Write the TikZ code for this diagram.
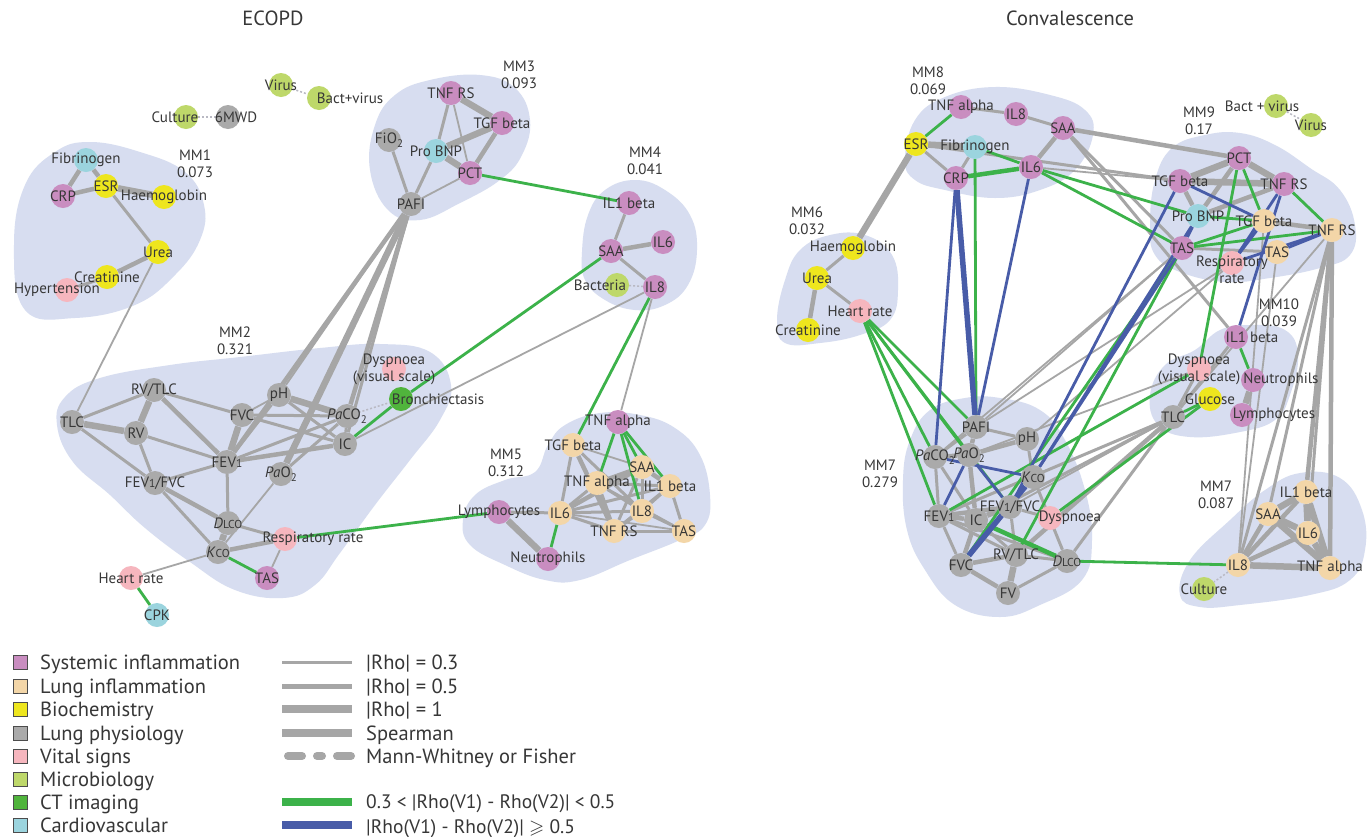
\documentclass[tikz,border=0pt]{standalone}
\usepackage{amssymb}
\usepackage{fontspec}
\setmainfont{PT Sans}
\usetikzlibrary{calc}
\pgfdeclarelayer{bg}
\pgfdeclarelayer{hull}
\pgfdeclarelayer{edges}
\pgfdeclarelayer{labels}
\pgfsetlayers{bg,hull,edges,main,labels}

\definecolor{sysc}{RGB}{201,141,192}
\definecolor{lungc}{RGB}{243,214,168}
\definecolor{bioc}{RGB}{238,230,30}
\definecolor{physc}{RGB}{170,170,170}
\definecolor{vitc}{RGB}{246,182,190}
\definecolor{micc}{RGB}{190,216,106}
\definecolor{ctc}{RGB}{80,180,60}
\definecolor{cardc}{RGB}{155,212,222}
\definecolor{hullc}{RGB}{215,221,240}
\definecolor{edgec}{RGB}{166,166,166}
\definecolor{grc}{RGB}{60,178,74}
\definecolor{blc}{RGB}{72,92,168}
\definecolor{txt}{RGB}{55,55,55}
\definecolor{dotc}{RGB}{185,185,195}

\newcommand\nodefont{\fontsize{15}{17}\selectfont}
\newcommand\legfont{\fontsize{20.5}{21}\selectfont}
\newcommand\legfontb{\fontsize{19.5}{20}\selectfont}
\newcommand\sbs[1]{\raisebox{-0.45ex}{\fontsize{11}{11}\selectfont #1}}
\newcommand\smc[1]{{\fontsize{11.5}{11}\selectfont #1}}
\newcommand\PaCO{\textit{Pa}CO\sbs{2}}
\newcommand\PaO{\textit{Pa}O\sbs{2}}
\newcommand\DLCO{\textit{D}\smc{LCO}}
\newcommand\KCO{\textit{K}\smc{CO}}
\newcommand\FEV{FEV\smc{1}}

% circle + label drawn on the label layer
\newcommand\nd[5][]{%
  \node[ndot,#4] (#2) at (#3) {};
  \begin{pgfonlayer}{labels}\node[lbl,#1] (#2-l) at (#2) {#5};\end{pgfonlayer}}

\tikzset{
  ndot/.style={circle, inner sep=0pt, minimum size=24pt, draw=none},
  sys/.style={fill=sysc}, lung/.style={fill=lungc}, bio/.style={fill=bioc},
  phys/.style={fill=physc}, vit/.style={fill=vitc}, mic/.style={fill=micc},
  ct/.style={fill=ctc}, card/.style={fill=cardc},
  lbl/.style={font=\nodefont, text=txt, align=center, inner sep=0pt},
  mmlbl/.style={font=\nodefont, text=txt, align=center, inner sep=0pt},
  g1/.style={draw=edgec, line width=1.8pt},
  g2/.style={draw=edgec, line width=3pt},
  g3/.style={draw=edgec, line width=4.5pt},
  g4/.style={draw=edgec, line width=6.5pt},
  gr/.style={draw=grc, line width=2.8pt},
  grt/.style={draw=grc, line width=4.5pt},
  bl/.style={draw=blc, line width=2.8pt},
  blt/.style={draw=blc, line width=5.5pt},
  mw/.style={draw=dotc, line width=1.5pt, dash pattern=on 2pt off 2pt},
  hullfill/.style={fill=hullc},
  legsq/.style={draw=black!70, line width=1pt, minimum size=14pt, inner sep=0pt},
  legtxt/.style={font=\legfont, text=txt, anchor=base west, inner sep=0pt},
}

\begin{document}
\begin{tikzpicture}[x=1pt, y=-1pt]
\useasboundingbox (0,0) rectangle (1370,836);
\begin{pgfonlayer}{bg}
\fill[white] (0,0) rectangle (1370,836);
\end{pgfonlayer}

% ---------- titles ----------
\node[font=\fontsize{20.5}{22}\selectfont, text=txt] (tl) at (273,18) {ECOPD};
\node[font=\fontsize{20.5}{22}\selectfont, text=txt] (tr) at (1070,18) {Convalescence};

% ---------- module hulls ----------
\begin{pgfonlayer}{hull}
\fill[hullfill] plot[smooth cycle, tension=0.7] coordinates {(14,245) (25,185) (55,152) (90,142) (140,152) (185,172) (204,205) (200,240) (175,275) (135,305) (75,318) (25,310)};
\fill[hullfill] plot[smooth cycle, tension=0.7] coordinates {(57,425) (65,397) (100,378) (170,365) (240,357) (320,348) (380,344) (430,352) (451,385) (440,420) (410,460) (375,505) (340,553) (315,585) (283,598) (235,590) (190,562) (145,528) (110,495) (73,462)};
\fill[hullfill] plot[smooth cycle, tension=0.7] coordinates {(370,170) (375,125) (395,95) (430,80) (480,75) (515,88) (530,120) (522,155) (500,180) (460,203) (420,220) (388,210)};
\fill[hullfill] plot[smooth cycle, tension=0.7] coordinates {(582,252) (588,215) (605,190) (635,180) (665,190) (690,215) (697,250) (688,285) (665,305) (635,310) (605,300) (585,280)};
\fill[hullfill] plot[smooth cycle, tension=0.7] coordinates {(463,520) (475,495) (505,480) (535,472) (548,445) (565,425) (600,413) (640,415) (675,428) (700,455) (710,495) (705,525) (680,540) (630,560) (580,580) (545,580) (505,565) (470,545)};
\fill[hullfill] plot[smooth cycle, tension=0.7] coordinates {(905,160) (915,120) (945,97) (995,87) (1050,95) (1085,110) (1093,135) (1075,170) (1040,190) (995,198) (945,190) (915,180)};
\fill[hullfill] plot[smooth cycle, tension=0.7] coordinates {(777,320) (785,280) (800,250) (830,235) (865,235) (892,255) (898,290) (890,320) (860,335) (820,343) (785,343)};
\fill[hullfill] plot[smooth cycle, tension=0.7] coordinates {(1150,225) (1155,180) (1172,148) (1205,135) (1240,133) (1275,145) (1310,168) (1340,190) (1355,225) (1350,255) (1320,268) (1270,278) (1225,282) (1180,272) (1155,255)};
\fill[hullfill] plot[smooth cycle, tension=0.7] coordinates {(1150,395) (1165,365) (1195,350) (1220,330) (1250,325) (1285,330) (1298,355) (1290,395) (1275,420) (1240,432) (1190,437) (1158,425)};
\fill[hullfill] plot[smooth cycle, tension=0.7] coordinates {(903,480) (910,440) (930,410) (965,398) (1000,398) (1040,410) (1065,440) (1085,490) (1092,540) (1082,580) (1040,605) (1000,617) (955,605) (925,570) (907,530)};
\fill[hullfill] plot[smooth cycle, tension=0.7] coordinates {(1180,595) (1190,560) (1230,520) (1265,490) (1300,473) (1340,478) (1362,510) (1365,550) (1350,580) (1310,595) (1240,605) (1200,607)};
\end{pgfonlayer}

% ---------- module labels ----------
\node[mmlbl] (mm1) at (195,164) {MM1\\0.073};
\node[mmlbl] (mm2) at (235,341) {MM2\\0.321};
\node[mmlbl] (mm3) at (519,75) {MM3\\0.093};
\node[mmlbl] (mm4) at (645,161) {MM4\\0.041};
\node[mmlbl] (mm5) at (506,463) {MM5\\0.312};
\node[mmlbl] (mm8) at (928,81) {MM8\\0.069};
\node[mmlbl] (mm6) at (807,221) {MM6\\0.032};
\node[mmlbl] (mm9) at (1199,121) {MM9\\0.17};
\node[mmlbl] (mm10) at (1279,313) {MM10\\0.039};
\node[mmlbl] (mm7a) at (880,474) {MM7\\0.279};
\node[mmlbl] (mm7b) at (1216,495) {MM7\\0.087};

% ================= ECOPD nodes =================
\nd{lVir}{281,85}{mic}{Virus}
\nd[xshift=31pt]{lBV}{319,98}{mic}{Bact+virus}
\nd[xshift=-11pt]{lCul}{186,117}{mic}{Culture}
\nd[xshift=8pt]{l6MW}{228,117}{phys}{6MWD}
\nd{lFib}{86,160}{card}{Fibrinogen}
\nd{lCRP}{63,196}{sys}{CRP}
\nd{lESR}{106,186}{bio}{ESR}
\nd{lHae}{164,197}{bio}{Haemoglobin}
\nd{lUre}{158,252}{bio}{Urea}
\nd{lCre}{107,277}{bio}{Creatinine}
\nd[xshift=-10pt]{lHyp}{67,290}{vit}{Hypertension}
\nd{lTNR}{451,93}{sys}{TNF RS}
\nd{lTGF}{502,123}{sys}{TGF beta}
\nd{lFiO}{389,140}{phys}{FiO\sbs{2}}
\nd{lBNP}{436,151}{card}{Pro BNP}
\nd{lPCT}{470,173}{sys}{PCT}
\nd{lPAF}{411,204}{phys}{PAFI}
\nd{lI1b}{629,203}{sys}{IL1 beta}
\nd{lIL6}{663,242}{sys}{IL6}
\nd{lSAA}{611,251}{sys}{SAA}
\nd[xshift=-17pt]{lBac}{617,285}{mic}{Bacteria}
\nd{lIL8}{655,287}{sys}{IL8}
\nd{lRT}{154,390}{phys}{RV/TLC}
\nd{lTLC}{72,422}{phys}{TLC}
\nd{lRV}{136,433}{phys}{RV}
\nd{lFVC}{242,415}{phys}{FVC}
\nd{lpH}{279,395}{phys}{pH}
\nd{lPC}{347,416}{phys}{\PaCO}
\nd{lIC}{345,444}{phys}{IC}
\nd{lFE}{227,462}{phys}{\FEV}
\nd{lPO}{281,474}{phys}{\PaO}
\nd{lFF}{155,483}{phys}{\FEV/FVC}
\nd{lDL}{228,523}{phys}{\DLCO}
\nd[xshift=28pt]{lRR}{285,539}{vit}{Respiratory rate}
\nd{lKC}{218,552}{phys}{\KCO}
\nd{lTAS}{267,578}{sys}{TAS}
\nd{lHR}{131,578}{vit}{Heart rate}
\nd{lCPK}{157,615}{card}{CPK}
\nd{lDys}{394,369}{vit}{Dyspnoea\\(visual scale)}
\nd[xshift=37pt]{lBro}{401,399}{ct}{Bronchiectasis}
\nd{lTNa}{618,422}{sys}{TNF alpha}
\nd{lTGt}{573,445}{lung}{TGF beta}
\nd{lSAt}{642,467}{lung}{SAA}
\nd{lTAt}{597,483}{lung}{TNF alpha}
\nd{lI1t}{670,486}{lung}{IL1 beta}
\nd{lLym}{499,512}{sys}{Lymphocytes}
\nd{lI6t}{560,513}{lung}{IL6}
\nd{lI8t}{642,511}{lung}{IL8}
\nd{lTRt}{614,531}{lung}{TNF RS}
\nd{lTSt}{684,531}{lung}{TAS}
\nd{lNeu}{548,559}{sys}{Neutrophils}

% ================= Convalescence nodes =================
\nd{rTNa}{961,107}{sys}{TNF alpha}
\nd{rIL8}{1016,114}{sys}{IL8}
\nd{rSAA}{1063,128}{sys}{SAA}
\nd{rESR}{916,144}{bio}{ESR}
\nd{rFib}{975,147}{card}{Fibrinogen}
\nd{rCRP}{956,178}{sys}{CRP}
\nd{rIL6}{1031,167}{sys}{IL6}
\nd{rHae}{853,248}{bio}{Haemoglobin}
\nd{rUre}{817,278}{bio}{Urea}
\nd{rHR}{860,311}{vit}{Heart rate}
\nd{rCre}{808,330}{bio}{Creatinine}
\nd[xshift=-14pt]{rBV}{1276,106}{mic}{Bact + virus}
\nd{rVir}{1311,125}{mic}{Virus}
\nd{rPCT}{1239,158}{sys}{PCT}
\nd{rTGp}{1180,181}{sys}{TGF beta}
\nd{rTRp}{1284,184}{sys}{TNF RS}
\nd{rBNP}{1198,216}{card}{Pro BNP}
\nd{rTGt}{1264,221}{lung}{TGF beta}
\nd{rTRt}{1332,230}{lung}{TNF RS}
\nd{rTSp}{1182,248}{sys}{TAS}
\nd{rTSt}{1277,252}{lung}{TAS}
\nd[yshift=-7pt]{rRR}{1232,263}{vit}{Respiratory\\rate}
\nd[xshift=16pt]{rI1b}{1236,337}{sys}{IL1 beta}
\nd{rDys}{1199,369}{vit}{Dyspnoea\\(visual scale)}
\nd[xshift=28pt]{rNeu}{1253,380}{sys}{Neutrophils}
\nd{rGlu}{1210,399}{bio}{Glucose}
\nd{rTLC}{1173,417}{phys}{TLC}
\nd[xshift=32pt]{rLym}{1242,415}{sys}{Lymphocytes}
\nd{rI1t}{1306,492}{lung}{IL1 beta}
\nd{rSAt}{1268,514}{lung}{SAA}
\nd{rI6t}{1308,533}{lung}{IL6}
\nd{rI8t}{1238,565}{lung}{IL8}
\nd{rTAt}{1330,568}{lung}{TNF alpha}
\nd{rCul}{1204,589}{mic}{Culture}
\nd{rPAF}{976,427}{phys}{PAFI}
\nd{rpH}{1027,439}{phys}{pH}
\nd{rPC}{935,457}{phys}{\PaCO}
\nd{rPO}{969,455}{phys}{\PaO}
\nd{rKC}{1033,477}{phys}{\KCO}
\nd{rFF}{1010,507}{phys}{\FEV/FVC}
\nd{rFE}{939,516}{phys}{\FEV}
\nd{rIC}{976,520}{phys}{IC}
\nd[xshift=20pt]{rDy}{1050,518}{vit}{Dyspnoea}
\nd{rRT}{1016,555}{phys}{RV/TLC}
\nd{rDL}{1067,561}{phys}{\DLCO}
\nd{rFVC}{961,565}{phys}{FVC}
\nd{rFV}{1008,593}{phys}{FV}

% ================= connectors =================
\begin{pgfonlayer}{edges}
% ---- ECOPD ----
\foreach \a/\b in {lVir/lBV, lCul/l6MW, lBac/lIL8, lPC/lBro} \draw[mw] (\a) -- (\b);
\foreach \a/\b in {lUre/lTLC, lTNR/lPCT, lPCT/lPAF, lIL8/lIC, lIL8/lTNa, lPAF/lpH, lPO/lKC,
  lRR/lTAS, lKC/lHR, lTGt/lSAt, lI6t/lTSt, lTAt/lTSt, lpH/lFVC}
  \draw[g1] (\a) -- (\b);
\foreach \a/\b in {lESR/lUre, lCre/lHyp, lTNR/lBNP, lBNP/lPAF, lFiO/lPAF, lI1b/lSAA, lSAA/lIL8,
  lPAF/lIC, lTLC/lRT, lTLC/lFF, lRT/lFVC, lRV/lFE, lRV/lFF, lFF/lFE, lFF/lKC, lFE/lpH, lFE/lPC,
  lFE/lDL, lFVC/lPC, lFVC/lIC, lpH/lIC, lPC/lIC, lPO/lPC, lDL/lRR,
  lTGt/lI6t, lTGt/lI8t, lI6t/lTAt, lI6t/lI1t, lI6t/lI8t, lI6t/lTRt, lTAt/lI1t, lTAt/lI8t,
  lSAt/lI8t, lSAt/lTRt, lI1t/lI8t, lI1t/lTSt, lI1t/lTRt, lI8t/lTRt, lI8t/lTSt, lTRt/lTSt, lLym/lI6t}
  \draw[g2] (\a) -- (\b);
\foreach \a/\b in {lFib/lCRP, lFib/lESR, lCRP/lESR, lUre/lCre, lTGF/lPCT, lSAA/lIL6,
  lPAF/lPC, lPAF/lFE, lRT/lFE, lFF/lDL, lFE/lIC, lKC/lRR, lTGt/lTRt, lI6t/lSAt, lTAt/lSAt,
  lTAt/lTRt, lSAt/lI1t}
  \draw[g3] (\a) -- (\b);
\foreach \a/\b in {lESR/lHae, lTNR/lTGF, lTGF/lBNP, lBNP/lPCT, lPAF/lPO, lTLC/lRV, lRT/lRV,
  lFE/lFVC, lpH/lPC, lDL/lKC, lLym/lNeu}
  \draw[g4] (\a) -- (\b);
\foreach \a/\b in {lPCT/lI1b, lSAA/lBro, lBro/lIC, lIL8/lTGt, lKC/lTAS, lHR/lCPK, lRR/lLym,
  lTNa/lTAt, lTNa/lSAt, lTNa/lI8t, lTNa/lI1t, lI6t/lNeu}
  \draw[gr] (\a) -- (\b);

% ---- Convalescence ----
\foreach \a/\b in {rBV/rVir, rI8t/rCul} \draw[mw] (\a) -- (\b);
\foreach \a/\b in {rIL6/rTGp, rTSp/rPAF, rRR/rpH, rRR/rPAF, rI8t/rTGt, rI8t/rTSt, rTRt/rTLC,
  rDys/rPO, rTSp/rPC, rTLC/rFF}
  \draw[g1] (\a) -- (\b);
\foreach \a/\b in {rTNa/rIL8, rIL8/rSAA, rESR/rCRP, rCRP/rFib, rHae/rUre, rUre/rHR,
  rSAA/rTSp, rSAA/rI1b, rTSp/rTSt, rI1b/rTLC, rDys/rTLC, rTRt/rI8t, rTRt/rSAt, rTRt/rI6t,
  rPAF/rpH, rPAF/rPC, rPC/rFE, rPC/rIC, rFE/rFVC, rFE/rRT, rFE/rDL, rIC/rRT, rFF/rRT,
  rFF/rDy, rRT/rDL, rDL/rFV, rKC/rDL, rpH/rKC, rTLC/rIC, rTLC/rFE, rTLC/rDL, rESR/rTGp}
  \draw[g2] (\a) -- (\b);
\foreach \a/\b in {rIL6/rSAA, rUre/rCre, rSAA/rPCT, rPCT/rBNP, rTGp/rBNP, rTRp/rBNP,
  rTGt/rTRt, rTRt/rI1t, rTRt/rTAt, rI8t/rSAt, rI8t/rI1t, rI8t/rI6t, rPAF/rPO, rPC/rPO,
  rPO/rpH, rPO/rIC, rFE/rIC, rFE/rFF, rIC/rFF, rIC/rFVC, rRT/rFVC, rFVC/rFV, rTLC/rRT}
  \draw[g3] (\a) -- (\b);
\foreach \a/\b in {rESR/rFib, rESR/rHae, rPCT/rTGp, rPCT/rTRp, rTGp/rTRp, rI8t/rTAt,
  rSAt/rI1t, rSAt/rI6t, rSAt/rTAt, rI1t/rI6t, rI1t/rTAt, rI6t/rTAt, rRT/rFV, rNeu/rLym}
  \draw[g4] (\a) -- (\b);
\foreach \a/\b in {rTNa/rESR, rFib/rIL6, rFib/rPAF, rIL6/rBNP, rHR/rPAF, rHR/rPO, rHR/rPC,
  rHR/rFE, rHR/rFF, rPCT/rTGt, rPCT/rDys, rTRp/rTRt, rBNP/rTGt, rTGt/rTSp, rTRt/rTSp,
  rI1b/rNeu, rGlu/rTLC, rDys/rFE, rGlu/rDy, rTSp/rRT, rTSp/rFVC, rDL/rI8t, rIL6/rTSp}
  \draw[gr] (\a) -- (\b);
\foreach \a/\b in {rCRP/rIL6, rIC/rDL} \draw[grt] (\a) -- (\b);
\foreach \a/\b in {rCRP/rPC, rIL6/rPAF, rTGp/rTGt, rTGp/rFF, rTRp/rRR, rTRp/rI1b,
  rBNP/rTSp, rTGt/rRR, rRR/rTRt, rTRt/rTSt, rBNP/rKC, rTSp/rKC, rPC/rKC, rPO/rFF, rFE/rPO}
  \draw[bl] (\a) -- (\b);
\foreach \a/\b in {rCRP/rPAF, rFVC/rKC} \draw[blt] (\a) -- (\b);
\end{pgfonlayer}

% ================= legend =================
\foreach \c/\t/\y [count=\i] in {sysc/Systemic inflammation/662, lungc/Lung inflammation/686,
  bioc/Biochemistry/709, physc/Lung physiology/733, vitc/Vital signs/756,
  micc/Microbiology/779, ctc/CT imaging/802, cardc/Cardiovascular/825}
{
  \node[legsq, fill=\c] (sq\i) at (20,\y) {};
  \node[legtxt] (lt\i) at (40,\y+7.5) {\t};
}
\coordinate (ls1) at (282,662); \coordinate (le1) at (352,662);
\coordinate (ls2) at (282,686); \coordinate (le2) at (352,686);
\coordinate (ls3) at (282,709); \coordinate (le3) at (352,709);
\coordinate (ls4) at (282,733); \coordinate (le4) at (352,733);
\coordinate (ls5) at (288,756); \coordinate (le5) at (352,756);
\coordinate (ls6) at (282,802); \coordinate (le6) at (352,802);
\coordinate (ls7) at (282,825); \coordinate (le7) at (352,825);
\draw[draw=edgec, line width=3pt] (ls1) -- (le1);
\draw[draw=edgec, line width=5pt] (ls2) -- (le2);
\draw[draw=edgec, line width=8pt] (ls3) -- (le3);
\draw[draw=edgec, line width=8pt] (ls4) -- (le4);
\draw[draw=edgec, line width=8pt, line cap=round, dash pattern=on 14pt off 15pt on 5pt off 15pt] (ls5) -- (le5);
\draw[draw=grc, line width=8pt] (ls6) -- (le6);
\draw[draw=blc, line width=8pt] (ls7) -- (le7);
\node[legtxt] (r1) at (366,669.5) {|Rho| = 0.3};
\node[legtxt] (r2) at (366,693.5) {|Rho| = 0.5};
\node[legtxt] (r3) at (366,716.5) {|Rho| = 1};
\node[legtxt] (r4) at (366,740.5) {Spearman};
\node[legtxt] (r5) at (366,763.5) {Mann-Whitney or Fisher};
\node[legtxt, font=\legfontb] (r6) at (366,808.5) {0.3 < |Rho(V1) - Rho(V2)| < 0.5};
\node[legtxt, font=\legfontb] (r7) at (366,833) {|Rho(V1) - Rho(V2)| $\geqslant$ 0.5};
\end{tikzpicture}
\end{document}
